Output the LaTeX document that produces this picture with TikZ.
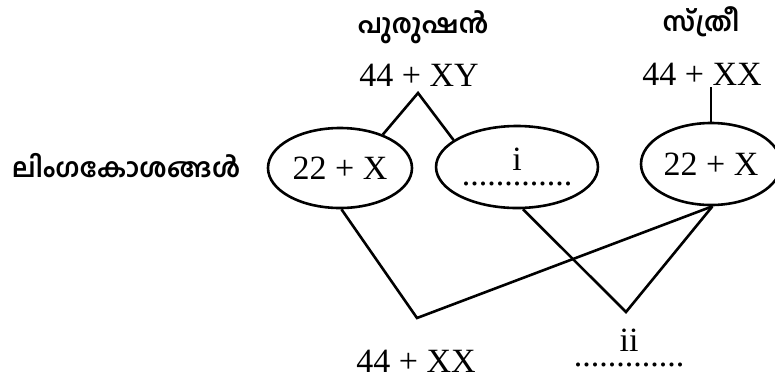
\documentclass[tikz,border=0pt]{standalone}
\usepackage{fontspec}
\setmainfont{Liberation Serif}
\newfontfamily\mlfont[Script=Malayalam]{Hind Kochi}
\usetikzlibrary{shapes.geometric}
\begin{document}
\begin{tikzpicture}[x=1pt, y=-1pt,
	num/.style = {font=\fontsize{34}{36}\selectfont, inner sep=2pt, align=center},
	ml/.style = {font=\mlfont\bfseries\fontsize{26.5}{30}\selectfont, inner sep=0pt},
	gamete/.style = {ellipse, draw, line width=2.6pt, inner sep=0pt, num},
	arm/.style = {line width=2.6pt}]
\useasboundingbox (0,0) rectangle (775,381);
\node[ml] (man) at (423,27) {പുരുഷൻ};
\node[ml] (woman) at (701,22) {സ്ത്രീ};
\node[ml] (gam) at (126,166) {ലിംഗകോശങ്ങൾ};
\node[num] (xy) at (419,75) {44 + XY};
\node[num] (xx) at (702,74) {44 + XX};
\node[gamete, minimum width=144pt, minimum height=80pt] (lg) at (340,168) {22 + X};
\node[gamete, minimum width=142pt, minimum height=82pt] (li) at (517,167) {i\\[-21pt].............};
\node[gamete, minimum width=140pt, minimum height=82pt] (rg) at (711,164) {22 + X};
\node[num] (cl) at (416,361) {44 + XX};
\node[num] (cr) at (629,348) {ii\\[-21pt].............};
\coordinate (apex) at (418,93);
\coordinate (vl) at (417,318);
\coordinate (vr) at (626,312);
\draw[arm] (lg.38) -- (apex) -- (li.157);
\draw[arm] (rg.north) -- (rg.north |- xx.south);
\draw[arm] (lg.-88) -- (vl) -- (rg.-88);
\draw[arm] (li.-82) -- (vr) -- (rg.-88);
\end{tikzpicture}
\end{document}
